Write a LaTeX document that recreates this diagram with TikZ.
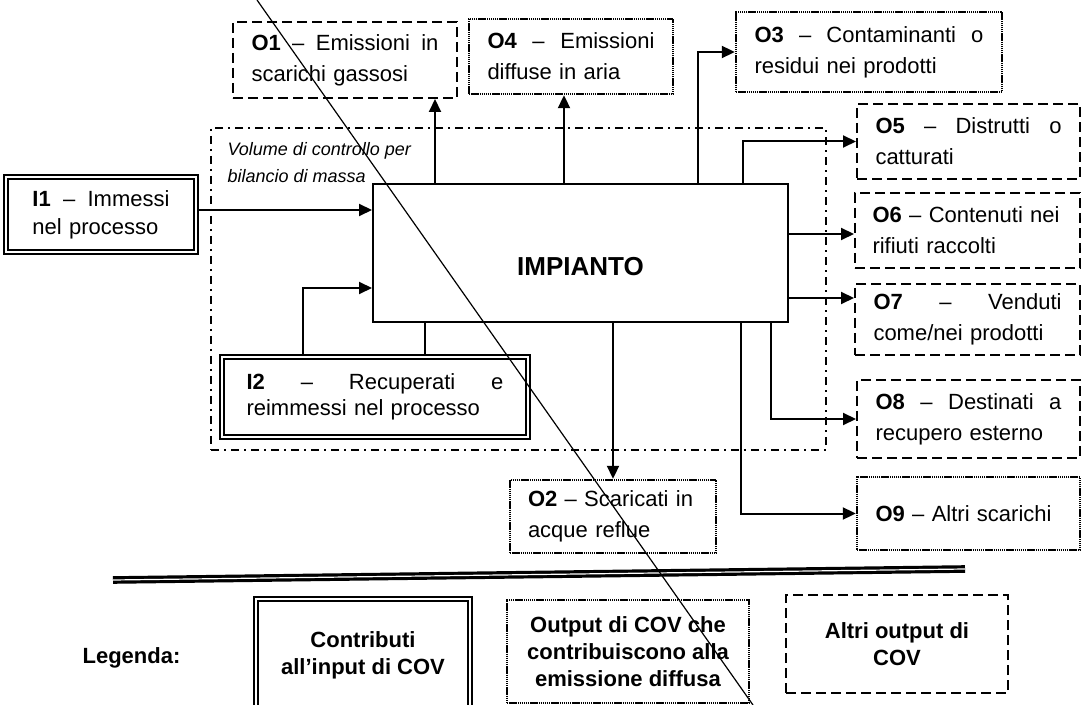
\documentclass[tikz,border=0pt]{standalone}
\usepackage{fontspec}
\setmainfont{Liberation Sans}
\usetikzlibrary{arrows.meta}

\begin{document}
\begin{tikzpicture}[x=0.5pt, y=-0.5pt,
	every node/.style={font=\fontsize{11}{14.5}\selectfont, inner sep=0pt},
	txtbox/.style={align=left},
	inbox/.style={txtbox, draw, double, line width=1.2pt, double distance=1pt, font=\fontsize{11}{14}\selectfont},
	diffbox/.style={txtbox, draw, line width=1.2pt, dash pattern=on 0.7pt off 0.35pt, font=\fontsize{11}{15.5}\selectfont},
	otherbox/.style={txtbox, draw, line width=1pt, dash pattern=on 5pt off 2.5pt, font=\fontsize{11}{15.5}\selectfont},
	ctrlvol/.style={draw, line width=0.9pt, dash pattern=on 4pt off 2.5pt on 1pt off 2.5pt},
	legtxt/.style={align=center, font=\fontsize{11}{13.5}\selectfont\bfseries},
	flow/.style={line width=1pt, -{Triangle[length=6.5pt,width=6pt]}},
	link/.style={line width=1pt},
] % {{{
\useasboundingbox (0,0) rectangle (1081,705);

% volume di controllo
\node[ctrlvol, minimum width=307.5pt, minimum height=161pt] (cv) at (518.5,289) {};
\node[anchor=north west, align=left, font=\fontsize{9}{13.5}\selectfont\itshape] (cvlabel)
	at ([xshift=8.5pt,yshift=-7.5pt]cv.north west) {Volume di controllo per\\bilancio di massa};

% impianto
\node[draw, line width=1pt, minimum width=207.5pt, minimum height=69pt] (imp) at (580.5,253) {};
\node[font=\fontsize{13}{15}\selectfont\bfseries] (imptxt) at ([yshift=-7pt]imp.center) {IMPIANTO};

% input
\node[inbox, minimum width=95pt, minimum height=37.5pt, text width=68.5pt] (i1) at (101,214.5)
	{\textbf{I1} \hfill \textendash{} \hfill Immessi\\nel processo};
\node[inbox, font=\fontsize{11}{13}\selectfont, minimum width=153pt, minimum height=40pt, text width=128.5pt] (i2) at (375,397)
	{\textbf{I2} \hfill \textendash{} \hfill Recuperati \hfill e\\reimmessi nel processo};

% output
\node[otherbox, minimum width=112pt, minimum height=38pt, text width=93.5pt] (o1) at (345,60)
	{\textbf{O1} \hfill \textendash{} \hfill Emissioni \hfill in\\scarichi gassosi};
\node[diffbox, minimum width=102pt, minimum height=37.5pt, text width=83.5pt] (o4) at (571,56.5)
	{\textbf{O4} \hfill \textendash{} \hfill Emissioni\\diffuse in aria};
\node[diffbox, minimum width=133pt, minimum height=40pt, text width=114.5pt] (o3) at (869,52)
	{\textbf{O3} \hfill \textendash{} \hfill Contaminanti \hfill o\\residui nei prodotti};
\node[otherbox, minimum width=111.5pt, minimum height=37.5pt, text width=93pt] (o5) at (968.5,141.5)
	{\textbf{O5} \hfill \textendash{} \hfill Distrutti \hfill o\\catturati};
\node[otherbox, minimum width=112.5pt, minimum height=37.5pt, text width=95pt] (o6) at (967.5,230.5)
	{\textbf{O6}~\textendash{}~Contenuti~nei\\rifiuti raccolti};
\node[otherbox, minimum width=112.5pt, minimum height=35.5pt, text width=94pt] (o7) at (967.5,319.5)
	{\textbf{O7} \hfill \textendash{} \hfill Venduti\\come/nei prodotti};
\node[otherbox, minimum width=111.5pt, minimum height=39pt, text width=93pt] (o8) at (968.5,419)
	{\textbf{O8} \hfill \textendash{} \hfill Destinati \hfill a\\recupero esterno};
\node[diffbox, minimum width=111.5pt, minimum height=36.5pt, text width=93pt] (o9) at (968.5,513.5)
	{\textbf{O9} \textendash{} Altri scarichi};
\node[diffbox, minimum width=103pt, minimum height=36.5pt, text width=85pt] (o2) at (613,516.5)
	{\textbf{O2} \textendash{} Scaricati in\\acque reflue};

% flussi
\coordinate (i1out) at ([yshift=2.25pt]i1.east);
\draw[flow] (i1out) -- (i1out -| imp.west);
\draw[flow] ([xshift=41pt]i2.north west) |- ([yshift=-17.5pt]imp.west);
\coordinate (i2ret) at ([xshift=102pt]i2.north west);
\draw[link] (i2ret |- imp.south) -- (i2ret);
\coordinate (o1in) at ([xshift=-11.5pt]o1.south east);
\draw[flow] (o1in |- imp.north) -- (o1in);
\coordinate (o4in) at ([xshift=-3.5pt]o4.south);
\draw[flow] (o4in |- imp.north) -- (o4in);
\draw[flow] ([xshift=-45.5pt]imp.north east) |- (o3.west);
\draw[flow] ([xshift=-23pt]imp.north east) |- (o5.west);
\coordinate (o6in) at ([yshift=-1.75pt]o6.west);
\draw[flow] (o6in -| imp.east) -- (o6in);
\coordinate (o7in) at ([yshift=10.75pt]o7.west);
\draw[flow] (o7in -| imp.east) -- (o7in);
\draw[flow] ([xshift=-9pt]imp.south east) |- (o8.west);
\draw[flow] ([xshift=-24pt]imp.south east) |- (o9.west);
\draw[flow] (o2.north |- imp.south) -- (o2.north);

% legenda
\draw[line width=1.6pt, double, double distance=0.6pt] (113,580) -- (965,569);
\node[font=\fontsize{11}{13.5}\selectfont\bfseries] (leg) at (131.5,658) {Legenda:};
\node[inbox, legtxt, minimum width=107pt, minimum height=56.5pt] (l1) at (363,655.5)
	{Contributi\\all’input di COV};
\node[diffbox, legtxt, minimum width=121pt, minimum height=51.5pt] (l2) at (628,651.5)
	{Output di COV che\\contribuiscono alla\\emissione diffusa};
\node[otherbox, legtxt, minimum width=111pt, minimum height=49pt] (l3) at (897,644)
	{Altri output di\\COV};

\draw[line width=0.6pt] (257,0) -- (753,705);
\end{tikzpicture} % }}}
\end{document}
